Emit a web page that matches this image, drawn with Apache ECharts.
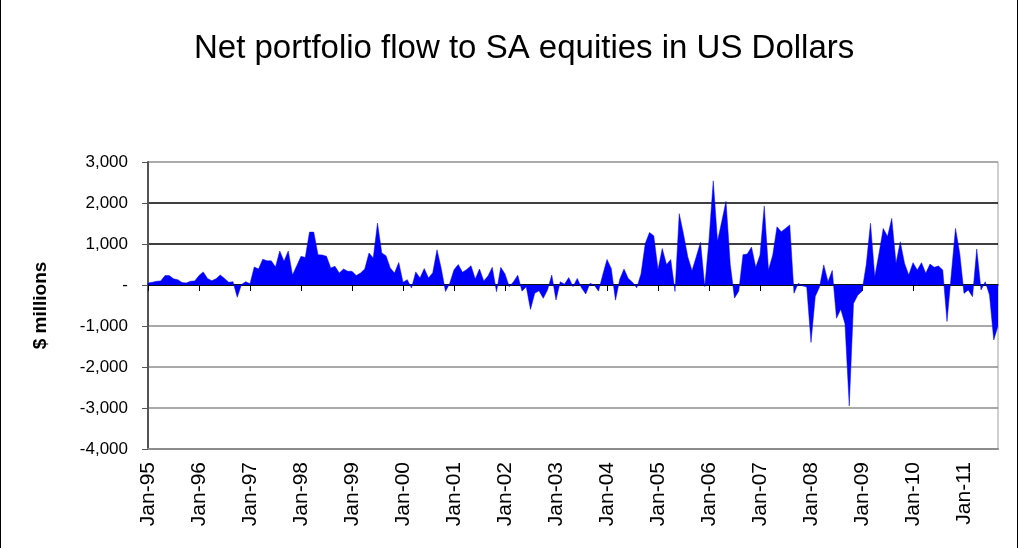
<!DOCTYPE html>
<html>
<head>
<meta charset="utf-8">
<script src="https://cdn.jsdelivr.net/npm/echarts@6/dist/echarts.min.js"></script>
<style>
	html, body { margin: 0; padding: 0; background: #fff; }
	#chart {
		width: 1016px;
		height: 548px;
		border-left: 1px solid #000;
		border-right: 1px solid #000;
	}
</style>
</head>
<body>
<div id="chart"></div>
<script>
// monthly categories Jan-95 .. Sep-11
const MONTHS = ['Jan', 'Feb', 'Mar', 'Apr', 'May', 'Jun', 'Jul', 'Aug', 'Sep', 'Oct', 'Nov', 'Dec'];
const YEARS = ['95', '96', '97', '98', '99', '00', '01', '02', '03', '04', '05', '06', '07', '08', '09', '10', '11'];
const LAST_MONTH_2011 = 9;

const categories = [];
YEARS.forEach((yy, yi) => {
	const n = yi === YEARS.length - 1 ? LAST_MONTH_2011 : 12;
	for (let m = 0; m < n; m++) categories.push(MONTHS[m] + '-' + yy);
});

// net flow, $ millions
const flow1995_1998 = [
	50, 65, 90, 100, 230, 230, 150, 130, 60, 50, 90, 100,
	230, 320, 160, 105, 150, 245, 160, 65, 80, -300, 15, 80,
	30, 440, 390, 630, 590, 590, 440, 830, 580, 830, 245, 470,
	700, 670, 1290, 1290, 740, 730, 700, 415, 455, 290, 390, 335,
];
const flow1999_2002 = [
	335, 230, 290, 390, 780, 660, 1510, 780, 715, 415, 290, 550,
	65, 130, -75, 320, 170, 400, 170, 300, 860, 400, -160, 45,
	370, 500, 310, 380, 470, 145, 390, 100, 220, 430, -165, 430,
	270, -40, 80, 240, -150, -40, -595, -200, -140, -325, -120, 245,
];
const flow2003_2006 = [
	-365, 80, 20, 180, -40, 160, -70, -220, 40, 0, -150, 250,
	625, 405, -370, 140, 390, 160, 70, -70, 270, 1010, 1280, 1200,
	380, 890, 500, 620, -160, 1740, 1240, 690, 350, 690, 1040, -40,
	1100, 2540, 1070, 1550, 2040, 500, -320, -150, 740, 755, 925, 430,
];
const flow2007_2011 = [
	730, 1925, 365, 730, 1420, 1300, 1380, 1465, -200, 40, -20, -50,
	-1400, -280, -50, 490, 80, 355, -810, -590, -950, -2950, -450, -250,
	-150, 500, 1505, 200, 770, 1380, 1180, 1625, 530, 1055, 530, 245,
	545, 365, 545, 285, 510, 430, 465, 365, -890, 250, 1380, 770,
	-205, -120, -285, 880, -120, 80, -245, -1340, -1000,
];
const netFlow = [].concat(flow1995_1998, flow1999_2002, flow2003_2006, flow2007_2011);

// y ticks -4,000 .. 3,000
const Y_MIN = -4000;
const Y_MAX = 3000;
const Y_STEP = 1000;

const fontFamily = '"Liberation Sans", Arial, Helvetica, sans-serif';

// bottom-to-top: gridlines below zero are grey, above zero black, top edge grey
const gridColors = ['#8c8c8c', '#8c8c8c', '#8c8c8c', '#8c8c8c', '#000', '#000', '#000', '#a0a0a0'];

const fmtY = (v) => (v === 0 ? '-' : v.toLocaleString('en-US'));

const option = {
	animation: false,
	backgroundColor: '#fff',
	title: {
		text: 'Net portfolio flow to SA equities in US Dollars',
		left: 188,
		top: 27,
		textStyle: { color: '#000', fontSize: 33, fontWeight: 'normal', fontFamily },
	},
	grid: {
		left: 147,
		right: 19,
		top: 162,
		bottom: 99,
		show: true,
		borderColor: '#a0a0a0',
		borderWidth: 1,
		containLabel: false,
	},
	xAxis: [
		{
			// labels along the bottom edge
			type: 'category',
			data: categories,
			boundaryGap: false,
			position: 'bottom',
			axisLine: { onZero: false, lineStyle: { color: '#8c8c8c', width: 2 } },
			axisTick: { show: false },
			axisLabel: {
				interval: 11,
				rotate: 90,
				margin: 13,
				color: '#000',
				fontSize: 21,
				fontFamily,
			},
			splitLine: { show: false },
		},
		{
			// zero line with yearly ticks
			type: 'category',
			data: categories,
			boundaryGap: false,
			position: 'top',
			axisLine: { onZero: true, lineStyle: { color: '#000', width: 1.5 } },
			axisTick: { show: true, interval: 11, inside: true, length: 6, lineStyle: { color: '#000' } },
			axisLabel: { show: false },
			splitLine: { show: false },
		},
	],
	yAxis: {
		type: 'value',
		min: Y_MIN,
		max: Y_MAX,
		interval: Y_STEP,
		name: '$ millions',
		nameLocation: 'middle',
		nameGap: 98,
		nameTextStyle: { color: '#000', fontSize: 19, fontWeight: 'bold', fontFamily },
		axisLine: { show: true, lineStyle: { color: '#555', width: 2 } },
		axisTick: { show: true, length: 6, lineStyle: { color: '#555' } },
		axisLabel: { color: '#000', fontSize: 17, margin: 20, fontFamily, formatter: fmtY },
		splitLine: { show: true, lineStyle: { color: gridColors, width: 1.5 } },
	},
	series: [
		{
			name: 'Net flow',
			type: 'line',
			xAxisIndex: 0,
			data: netFlow,
			symbol: 'none',
			smooth: false,
			lineStyle: { width: 0.5, color: '#0000ff' },
			areaStyle: { color: '#0000ff', opacity: 1 },
			z: 1,
		},
	],
};

const chart = echarts.init(document.getElementById('chart'));
chart.setOption(option);
</script>
</body>
</html>
